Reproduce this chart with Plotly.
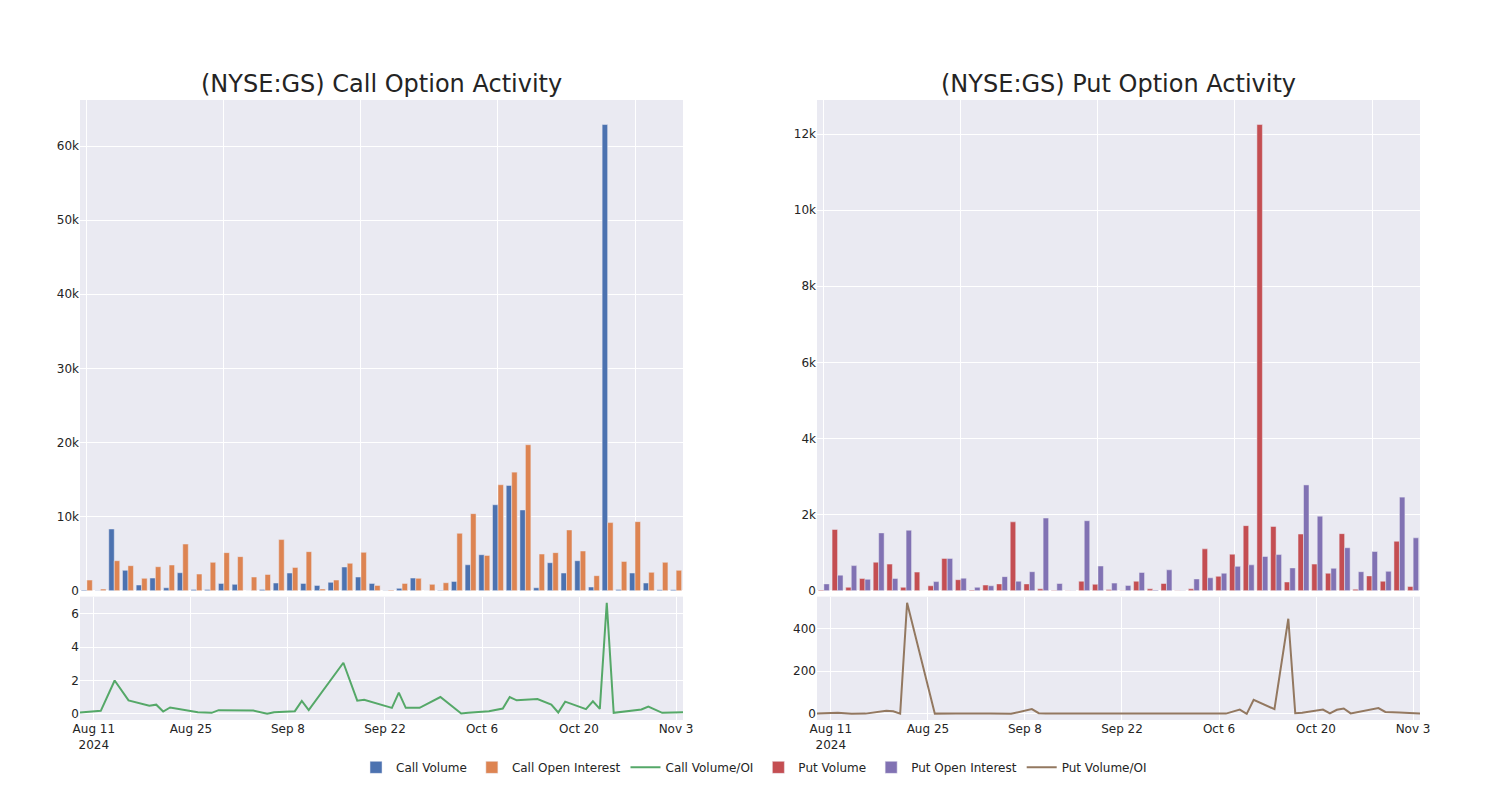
import plotly.graph_objects as go

dates = [
    "2024-08-09", "2024-08-12", "2024-08-14", "2024-08-16", "2024-08-19", "2024-08-20",
    "2024-08-21", "2024-08-22", "2024-08-26", "2024-08-28", "2024-08-29", "2024-09-03",
    "2024-09-05", "2024-09-06", "2024-09-09", "2024-09-10", "2024-09-11", "2024-09-16",
    "2024-09-18", "2024-09-19", "2024-09-23", "2024-09-24", "2024-09-25", "2024-09-27",
    "2024-09-30", "2024-10-03", "2024-10-04", "2024-10-07", "2024-10-09", "2024-10-10",
    "2024-10-11", "2024-10-14", "2024-10-16", "2024-10-17", "2024-10-18", "2024-10-21",
    "2024-10-22", "2024-10-23", "2024-10-24", "2024-10-25", "2024-10-29", "2024-10-30",
    "2024-11-01", "2024-11-04",
]

call_volume = [
    100, 40, 8330, 2750, 770, 1710, 400, 2430, 180, 180, 990, 860,
    10, 180, 1040, 2390, 990, 720, 1130, 3200, 1850, 990, 30, 320,
    1710, 10, 50, 1260, 3500, 4860, 11600, 14200, 10900, 400, 3780, 2390,
    4050, 500, 62900, 180, 2390, 1040, 140, 140,
]
call_open_interest = [
    1440, 220, 4050, 3380, 1670, 3240, 3470, 6300, 2250, 3830, 5140, 4600,
    1850, 2200, 6900, 3150, 5270, 230, 1440, 3700, 5180, 720, 90, 990,
    1670, 860, 1080, 7750, 10400, 4770, 14300, 16000, 19700, 4950, 5140, 8200,
    5360, 2030, 9190, 3960, 9320, 2480, 3830, 2750,
]
call_vol_oi = [
    0.08, 0.18, 2.0, 0.81, 0.48, 0.55, 0.14, 0.38, 0.10, 0.06, 0.22, 0.20,
    0.0, 0.10, 0.16, 0.77, 0.22, 3.07, 0.79, 0.85, 0.36, 1.27, 0.36, 0.36,
    1.01, 0.02, 0.06, 0.16, 0.32, 1.01, 0.81, 0.89, 0.55, 0.08, 0.73, 0.28,
    0.75, 0.30, 6.67, 0.06, 0.26, 0.44, 0.06, 0.10,
]

put_volume = [
    20, 1610, 90, 320, 750, 700, 90, 490, 130, 850, 290, 20,
    150, 180, 1810, 180, 50, 10, 5, 250, 170, 30, 5, 250,
    50, 190, 5, 50, 1100, 380, 960, 1710, 12250, 1690, 230, 1490,
    700, 460, 1500, 40, 390, 250, 1300, 110,
]
put_open_interest = [
    180, 410, 660, 300, 1520, 320, 1590, 1, 240, 850, 330, 90,
    130, 370, 250, 500, 1910, 190, 5, 1840, 650, 200, 140, 480,
    20, 550, 5, 310, 340, 460, 640, 680, 900, 950, 600, 2780,
    1960, 590, 1130, 500, 1030, 510, 2460, 1390,
]
put_vol_oi = [
    2, 5, 0, 1, 14, 12, 1, 521, 1, 3, 2, 1,
    1, 0, 22, 3, 1, 1, 1, 1, 2, 1, 0, 0,
    0, 0, 0, 1, 20, 0, 66, 22, 446, 3, 5, 20,
    2, 19, 25, 2, 27, 9, 6, 1,
]

legend_names = ["Call Volume", "Call Open Interest", "Call Volume/OI",
                "Put Volume", "Put Open Interest", "Put Volume/OI"]
titles = ["(NYSE:GS) Call Option Activity", "(NYSE:GS) Put Option Activity"]

colors = ["rgb(76,114,176)", "rgb(221,132,82)", "rgb(85,168,104)",
          "rgb(196,78,82)", "rgb(129,114,179)", "rgb(147,120,96)"]

fig = go.Figure()
fig.add_trace(go.Bar(x=dates, y=call_volume, name=legend_names[0],
                     marker_color=colors[0], xaxis="x", yaxis="y"))
fig.add_trace(go.Bar(x=dates, y=call_open_interest, name=legend_names[1],
                     marker_color=colors[1], xaxis="x", yaxis="y"))
fig.add_trace(go.Scatter(x=dates, y=call_vol_oi, name=legend_names[2], mode="lines",
                         line=dict(color=colors[2], width=2), xaxis="x2", yaxis="y2"))
fig.add_trace(go.Bar(x=dates, y=put_volume, name=legend_names[3],
                     marker_color=colors[3], xaxis="x3", yaxis="y3"))
fig.add_trace(go.Bar(x=dates, y=put_open_interest, name=legend_names[4],
                     marker_color=colors[4], xaxis="x3", yaxis="y3"))
fig.add_trace(go.Scatter(x=dates, y=put_vol_oi, name=legend_names[5], mode="lines",
                         line=dict(color=colors[5], width=2), xaxis="x4", yaxis="y4"))

top_dom = [0.2085, 1.0]
bot_dom = [0.0, 0.199]
left_dom = [0.0, 0.45]
right_dom = [0.55, 1.0]

cat_axis = dict(type="category", tickmode="linear", tick0=0, dtick=10,
                showticklabels=False, ticks="")

# The page body keeps an 8px margin, so the figure is sized/margined to land
# the plot areas where the reference has them.
fig.update_layout(
    template="seaborn",
    width=1484, height=784,
    margin=dict(l=72, r=72, t=92, b=72, autoexpand=False),
    font=dict(family="DejaVu Sans", size=12, color="rgb(36,36,36)"),
    barmode="group",
    xaxis=dict(domain=left_dom, anchor="y", **cat_axis),
    yaxis=dict(domain=top_dom, anchor="x"),
    xaxis2=dict(domain=left_dom, anchor="y2", type="date"),
    yaxis2=dict(domain=bot_dom, anchor="x2"),
    xaxis3=dict(domain=right_dom, anchor="y3", **cat_axis),
    yaxis3=dict(domain=top_dom, anchor="x3"),
    xaxis4=dict(domain=right_dom, anchor="y4", type="date"),
    yaxis4=dict(domain=bot_dom, anchor="x4"),
    legend=dict(orientation="h", x=0.503, xanchor="center", y=-0.053, yanchor="top",
                font=dict(size=12)),
    annotations=[
        dict(text=titles[0], x=sum(left_dom) / 2, y=1.0, xref="paper", yref="paper",
             xanchor="center", yanchor="bottom", showarrow=False, font=dict(size=24)),
        dict(text=titles[1], x=sum(right_dom) / 2, y=1.0, xref="paper", yref="paper",
             xanchor="center", yanchor="bottom", showarrow=False, font=dict(size=24)),
    ],
)

fig.write_html("out.html")
